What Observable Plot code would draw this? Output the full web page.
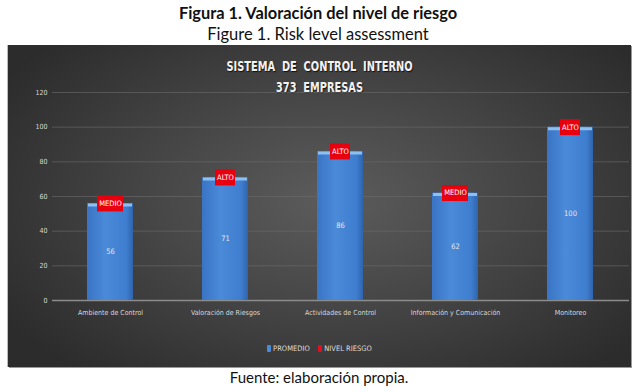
<!DOCTYPE html>
<html>
<head>
<meta charset="utf-8">
<script src="https://cdn.jsdelivr.net/npm/d3@7"></script>
<script src="https://cdn.jsdelivr.net/npm/@observablehq/plot@0.6"></script>
<style>
  html, body { margin: 0; padding: 0; background: #fff; }
  body { width: 640px; height: 392px; position: relative; overflow: hidden; font-family: Lato, "Open Sans", sans-serif; }
  .t1 { position: absolute; left: 0; width: 636px; top: 3px; text-align: center; font-size: 16.4px; font-weight: bold; color: #111; }
  .t2 { position: absolute; left: 0; width: 636px; top: 24px; text-align: center; font-size: 16.5px; color: #111; }
  .cap { position: absolute; left: 0; width: 638px; top: 368px; text-align: center; font-size: 15px; color: #111; }
  #panel { position: absolute; left: 8px; top: 45px; width: 623px; height: 322px;
    background: radial-gradient(ellipse 62% 70% at 52% 48%, #5c5c5c 0%, #474747 45%, #2c2c2c 100%);
    box-shadow: -1px 0 0 #bbb, 1px 1px 0 #999; }
  .cf { font-family: "DejaVu Sans Condensed", "Liberation Sans Narrow", Roboto, sans-serif; }
  .ct { position: absolute; left: 0; width: 623px; text-align: center; color: #f2f2f2; font-weight: bold;
    font-size: 14px; text-shadow: 1px 1px 1px #111; transform: scaleX(0.78); transform-origin: 50% 50%; }
  .legend { position: absolute; left: 0; width: 623px; top: 299px; text-align: center; color: #ddd; font-size: 7.5px; }
  .sw { display: inline-block; width: 4px; height: 7px; border-radius: 1px; vertical-align: -1px; margin-right: 2px; }
</style>
</head>
<body>
<div class="t1">Figura 1. Valoración del nivel de riesgo</div>
<div class="t2">Figure 1. Risk level assessment</div>
<div id="panel">
  <div class="ct cf" style="top:13px">SISTEMA&nbsp; DE&nbsp; CONTROL&nbsp; INTERNO</div>
  <div class="ct cf" style="top:34px">373&nbsp; EMPRESAS</div>
  <div class="legend cf"><span class="sw" style="background:#4a8ad8"></span>PROMEDIO&nbsp;&nbsp;&nbsp;&nbsp;<span class="sw" style="background:#e01020"></span>NIVEL RIESGO</div>
</div>
<div class="cap">Fuente: elaboración propia.</div>
<script>
const categories = ["Ambiente de Control", "Valoración de Riesgos", "Actividades de Control", "Información y Comunicación", "Monitoreo"];
const promedio = [56, 71, 86, 62, 100];
const nivelRiesgo = ["MEDIO", "ALTO", "ALTO", "MEDIO", "ALTO"];
const yTicks = [0, 20, 40, 60, 80, 100, 120];

const data = categories.map((c, i) => ({cat: c, value: promedio[i], level: nivelRiesgo[i]}));
const font = "'DejaVu Sans Condensed', 'Liberation Sans Narrow', Roboto, sans-serif";

const chart = Plot.plot({
  width: 623,
  height: 322,
  marginLeft: 44,
  marginRight: 2,
  marginTop: 47,
  marginBottom: 67,
  style: {background: "transparent", fontFamily: font, fontSize: "7px", color: "#d8d8d8"},
  x: {domain: categories, paddingInner: 0.6, paddingOuter: 0.3, label: null, tickSize: 0, tickPadding: 10},
  y: {domain: [0, 120], ticks: yTicks, label: null, tickSize: 0, tickPadding: 5},
  marks: [
    Plot.gridY(yTicks.filter(d => d > 0), {stroke: "#6a6a6a", strokeOpacity: 0.6}),
    Plot.ruleY([0], {stroke: "#8c8c8c", strokeWidth: 1.5}),
    Plot.barY(data, {x: "cat", y: "value", fill: "url(#barGrad)"}),
    Plot.tickY(data, {x: "cat", y: "value", stroke: "#8cc0f2", strokeWidth: 3, dy: 1.5, insetLeft: 1, insetRight: 1}),
    Plot.text(data, {x: "cat", y: d => d.value / 2, text: d => String(d.value), fill: "#e6e6ee", fontSize: 7.5}),
    Plot.tickY(data.filter(d => d.level === "ALTO"), {x: "cat", y: "value", stroke: "#e8000f", strokeWidth: 16, insetLeft: 13, insetRight: 13}),
    Plot.tickY(data.filter(d => d.level === "MEDIO"), {x: "cat", y: "value", stroke: "#e8000f", strokeWidth: 16, insetLeft: 10, insetRight: 10}),
    Plot.text(data, {x: "cat", y: "value", text: "level", fill: "#ffffff", fontSize: 7.5})
  ]
});

const defs = d3.select(chart).insert("defs", ":first-child");
const g = defs.append("linearGradient").attr("id", "barGrad").attr("x1", "0").attr("x2", "1").attr("y1", "0").attr("y2", "0");
g.append("stop").attr("offset", "0%").attr("stop-color", "#3a74c4");
g.append("stop").attr("offset", "40%").attr("stop-color", "#4a8ad8");
g.append("stop").attr("offset", "85%").attr("stop-color", "#3f7ecf");
g.append("stop").attr("offset", "100%").attr("stop-color", "#2f64ad");

chart.style.position = "absolute";
chart.style.left = "0px";
chart.style.top = "0px";
document.getElementById("panel").appendChild(chart);
</script>
</body>
</html>
